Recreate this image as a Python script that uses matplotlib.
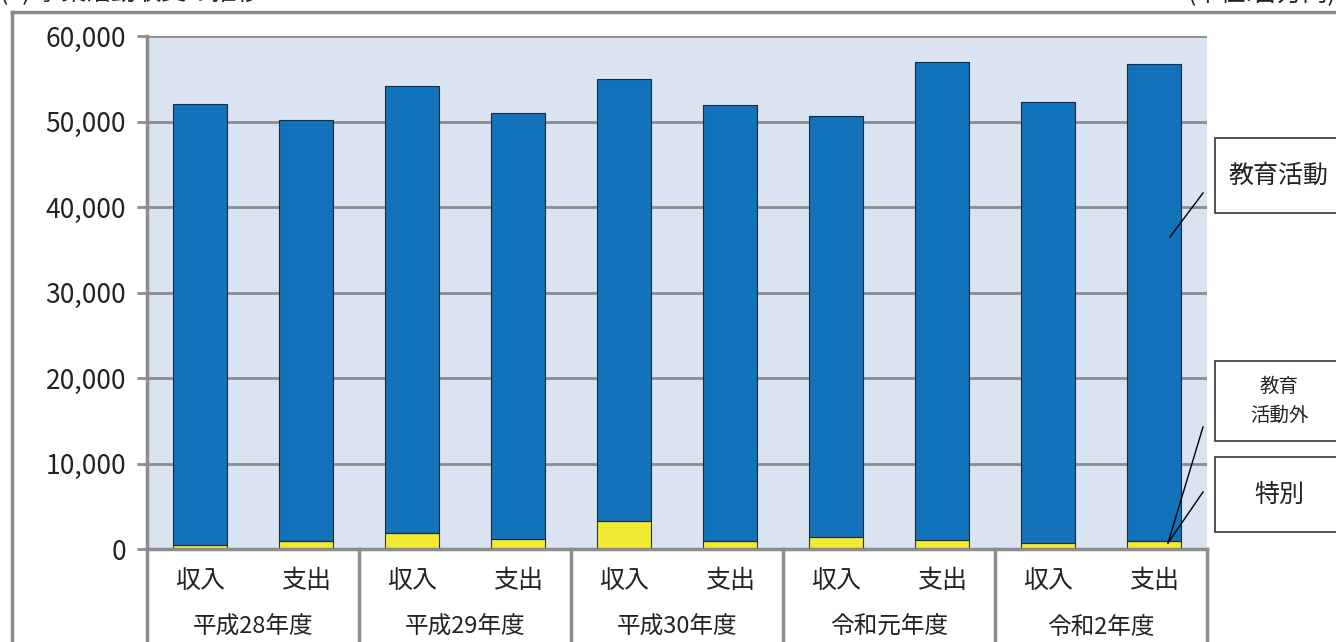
import matplotlib
matplotlib.use("Agg")
import matplotlib.pyplot as plt
from matplotlib.lines import Line2D
from matplotlib.patches import Rectangle

plt.rcParams['font.family'] = ['Noto Sans CJK JP', 'DejaVu Sans']

# ---- data (百万円) ----
years = ['平成28年度', '平成29年度', '平成30年度', '令和元年度', '令和2年度']
kinds = ['収入', '支出']
totals = [52000, 50150, 54150, 51000, 54950, 51950, 50650, 56950, 52300, 56700]
outside = [480, 950, 1880, 1150, 3250, 980, 1400, 1000, 750, 950]   # 教育活動外・特別 (yellow)
education = [t - o for t, o in zip(totals, outside)]                  # 教育活動 (blue)
yticks = [0, 10000, 20000, 30000, 40000, 50000, 60000]
series_names = ['教育活動', '教育\n活動外', '特別']
title = '(1) 事業活動収支の推移'
unit = '(単位:百万円)'

W, H = 1336, 642
fig = plt.figure(figsize=(W / 100, H / 100), dpi=100)
ax = fig.add_axes([147 / W, 1 - 549 / H, (1207 - 147) / W, (549 - 36) / H])

BLUE = '#1273BA'
YELLOW = '#F2EA32'
GRAY = '#8C8C8C'
ax.set_facecolor('#DAE3F1')

x = list(range(len(totals)))
ax.bar(x, outside, width=0.51, color=YELLOW, edgecolor='#333333', linewidth=0.8, zorder=3)
ax.bar(x, education, bottom=outside, width=0.51, color=BLUE, edgecolor='#1a2a3a', linewidth=0.8, zorder=3)

ax.set_xlim(-0.5, len(totals) - 0.5)
ax.set_ylim(0, 60000)
ax.set_yticks(yticks)
ax.set_yticklabels([f'{v:,}' for v in yticks], fontsize=19, color='#222222')
ax.yaxis.grid(True, color=GRAY, linewidth=2, zorder=1)
ax.tick_params(axis='y', length=7, width=2, color=GRAY, pad=8)
ax.tick_params(axis='x', length=0)
ax.set_xticks([])
for s in ['top', 'right']:
    ax.spines[s].set_visible(False)
for s in ['left', 'bottom']:
    ax.spines[s].set_color(GRAY)
    ax.spines[s].set_linewidth(2.5)
    ax.spines[s].set_zorder(4)

# two-level category labels
for i in x:
    ax.text(i, -0.062, kinds[i % 2], transform=ax.get_xaxis_transform(),
            ha='center', va='center', fontsize=18, color='#222222')
for g, yr in enumerate(years):
    ax.text(2 * g + 0.5, -0.153, yr, transform=ax.get_xaxis_transform(),
            ha='center', va='center', fontsize=17, color='#222222')
for g in range(len(years) + 1):
    ax.plot([2 * g - 0.5, 2 * g - 0.5], [0, -0.2], transform=ax.get_xaxis_transform(),
            color=GRAY, linewidth=2.5, clip_on=False)

# outer frame
fig.add_artist(Line2D([12 / W, 1], [1 - 12 / H, 1 - 12 / H], color=GRAY, linewidth=2.5))
fig.add_artist(Line2D([12 / W, 12 / W], [0, 1 - 12 / H], color=GRAY, linewidth=2.5))

# title / unit (clipped at top as in reference)
fig.text(0.0, 1 - 6 / H, title, ha='left', va='bottom', fontsize=18, color='#222222')
fig.text(1.0, 1 - 6 / H, unit, ha='right', va='bottom', fontsize=18, color='#222222')

# legend boxes on the right
def box(y0, y1, label, fs):
    fig.add_artist(Rectangle((1215 / W, 1 - y1 / H), (1345 - 1215) / W, (y1 - y0) / H,
                             facecolor='white', edgecolor='#333333', linewidth=1.2))
    fig.text(1279 / W, 1 - (y0 + y1) / 2 / H, label, ha='center', va='center',
             fontsize=fs, color='#222222', linespacing=1.5)

box(138, 213, series_names[0], 18)
box(361, 441, series_names[1], 14)
box(457, 532, series_names[2], 18)

def leader(x0, y0, x1, y1):
    fig.add_artist(Line2D([x0 / W, x1 / W], [1 - y0 / H, 1 - y1 / H], color='black', linewidth=1))

leader(1203, 193, 1170, 237)
leader(1203, 427, 1168, 543)
leader(1203, 492, 1168, 543)

fig.savefig('out.png', dpi=100)
